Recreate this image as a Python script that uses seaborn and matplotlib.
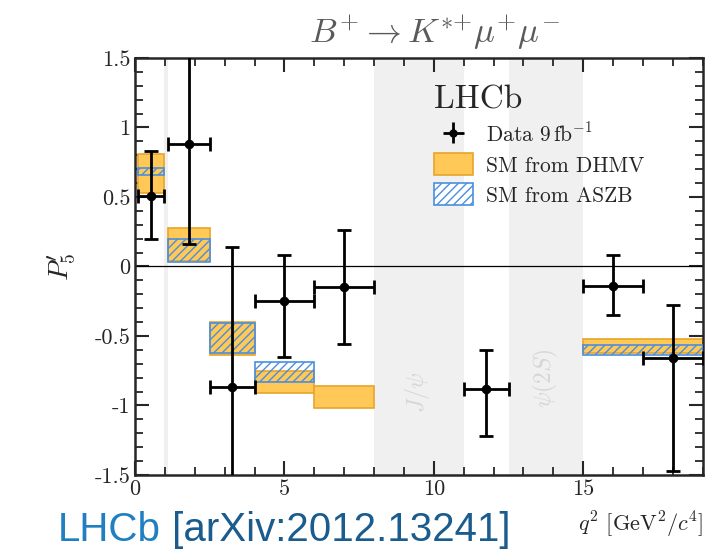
import numpy as np
import matplotlib
matplotlib.use("Agg")
import matplotlib.pyplot as plt
from matplotlib.patches import Patch
from matplotlib.ticker import FixedLocator, MultipleLocator
from matplotlib.transforms import offset_copy
import seaborn as sns
import pandas as pd

# LHCb B+ -> K*+ mu+ mu-, P5' vs q^2
bin_lo = [0.1, 1.1, 2.5, 4.0, 6.0, 11.0, 15.0, 17.0]
bin_hi = [0.98, 2.5, 4.0, 6.0, 8.0, 12.5, 17.0, 19.0]
p5_val = [0.51, 0.88, -0.87, -0.25, -0.15, -0.88, -0.14, -0.66]
p5_up = [0.32, 0.71, 1.01, 0.33, 0.41, 0.28, 0.22, 0.38]
p5_dn = [0.31, 0.72, 0.80, 0.40, 0.41, 0.34, 0.21, 0.81]

# SM predictions (DHMV)
dhmv_lo = [0.1, 1.1, 2.5, 4.0, 6.0, 15.0]
dhmv_hi = [0.98, 2.5, 4.0, 6.0, 8.0, 19.0]
dhmv_min = [0.53, 0.04, -0.635, -0.91, -1.02, -0.625]
dhmv_max = [0.81, 0.28, -0.40, -0.75, -0.86, -0.52]

# SM predictions (ASZB)
aszb_lo = [0.1, 1.1, 2.5, 4.0, 15.0]
aszb_hi = [0.98, 2.5, 4.0, 6.0, 19.0]
aszb_min = [0.655, 0.03, -0.625, -0.83, -0.635]
aszb_max = [0.705, 0.20, -0.41, -0.69, -0.565]

# vetoed charmonium regions
veto_lo = [0.98, 8.0, 12.5]
veto_hi = [1.1, 11.0, 15.0]

yticks = [-1.5, -1, -0.5, 0, 0.5, 1, 1.5]
xticks = [0, 5, 10, 15]

sns.set_style("ticks")
plt.rcParams["font.family"] = ["cmr10", "DejaVu Serif"]
plt.rcParams["mathtext.fontset"] = "cm"
plt.rcParams["axes.formatter.use_mathtext"] = True
plt.rcParams["hatch.linewidth"] = 1.0

ORANGE = "#ffc857"
ORANGE_EDGE = "#e8a42a"
BLUE = "#4a8fe0"

fig = plt.figure(figsize=(7.2, 5.52), dpi=100)
ax = fig.add_axes([0.1875, 0.1395, 0.7885, 0.7555])

for lo, hi in zip(veto_lo, veto_hi):
    ax.axvspan(lo, hi, color="#f0f0f0", lw=0, zorder=0)

ax.axhline(0, color="black", lw=0.9, zorder=1)

# DHMV bands
ax.bar(dhmv_lo, np.array(dhmv_max) - np.array(dhmv_min),
       width=np.array(dhmv_hi) - np.array(dhmv_lo), bottom=dhmv_min,
       align="edge", facecolor=ORANGE, edgecolor=ORANGE_EDGE, lw=1.2, zorder=2)

# ASZB bands
ax.bar(aszb_lo, np.array(aszb_max) - np.array(aszb_min),
       width=np.array(aszb_hi) - np.array(aszb_lo), bottom=aszb_min,
       align="edge", facecolor="none", edgecolor=BLUE, hatch="////", lw=1.2, zorder=3)

# data
df = pd.DataFrame({
    "q2": (np.array(bin_lo) + np.array(bin_hi)) / 2,
    "xerr": (np.array(bin_hi) - np.array(bin_lo)) / 2,
    "P5": p5_val, "up": p5_up, "dn": p5_dn,
})
ax.errorbar(df["q2"], df["P5"], xerr=df["xerr"], yerr=[df["dn"], df["up"]],
            fmt="none", ecolor="black", elinewidth=2, capsize=5, capthick=2, zorder=4)
sns.scatterplot(data=df, x="q2", y="P5", ax=ax, color="black", s=40,
                edgecolor="black", zorder=5, legend=False)

ax.set_xlim(0, 19)
ax.set_ylim(-1.5, 1.5)
ax.xaxis.set_major_locator(FixedLocator(xticks))
ax.xaxis.set_minor_locator(MultipleLocator(1))
ax.yaxis.set_major_locator(FixedLocator(yticks))
ax.yaxis.set_minor_locator(MultipleLocator(0.1))
ax.set_xticklabels([f"{v:g}" for v in xticks])
ax.set_yticklabels([f"{v:g}" for v in yticks])
ax.tick_params(which="both", direction="in", top=True, right=True, width=1.5, labelsize=16)
ax.tick_params(which="major", length=10)
ax.tick_params(which="minor", length=6, width=1.3)
for s in ax.spines.values():
    s.set_linewidth(1.8)

ax.set_xlabel(r"$q^2$ [GeV$^2/c^4$]", fontsize=16)
ax.xaxis.set_label_coords(1.0, -0.085)
ax.xaxis.label.set_horizontalalignment("right")
ax.set_ylabel(r"$P_5'$", fontsize=20)
ax.yaxis.set_label_coords(-0.1, 0.5)

ax.text(9.45, -0.9, r"$J/\psi$", rotation=90, color="#d6d6d6", fontsize=17,
        ha="center", va="center", zorder=1)
ax.text(13.75, -0.8, r"$\psi(2S)$", rotation=90, color="#d6d6d6", fontsize=17,
        ha="center", va="center", zorder=1)

ax.text(0.528, 1.015, r"$B^{{+}} \rightarrow K^{*{+}}\mu^{{+}}\mu^{{-}}$",
        transform=ax.transAxes, color="#5a5a5a", fontsize=25,
        ha="center", va="bottom")

handles = [
    ax.errorbar([], [], xerr=[], yerr=[], fmt="o", color="black", ms=5, elinewidth=2),
    Patch(facecolor=ORANGE, edgecolor=ORANGE_EDGE, lw=1.2),
    Patch(facecolor="white", edgecolor=BLUE, hatch="////", lw=1.2),
]
labels = [r"Data $9\,\mathrm{fb}^{-1}$", "SM from DHMV", "SM from ASZB"]
leg = ax.legend(handles, labels, title="LHCb", loc="upper left",
                bbox_to_anchor=(0.5, 0.97), frameon=False, fontsize=15.5,
                title_fontsize=24, alignment="left", handlelength=1.8,
                handleheight=1.2, handletextpad=0.6, labelspacing=0.35,
                borderpad=0.2)

t1 = fig.text(0.08, 0.02, "LHCb", color="#1f7fc0", fontsize=29, family="Liberation Sans")
fig.canvas.draw()
w = t1.get_window_extent().width
fig.text(0.08, 0.02, " [arXiv:2012.13241]", color="#1a5c8e", fontsize=29,
         family="Liberation Sans",
         transform=offset_copy(fig.transFigure, fig=fig, x=w * 72 / fig.dpi, units="points"))

fig.savefig("out.png", dpi=100)
